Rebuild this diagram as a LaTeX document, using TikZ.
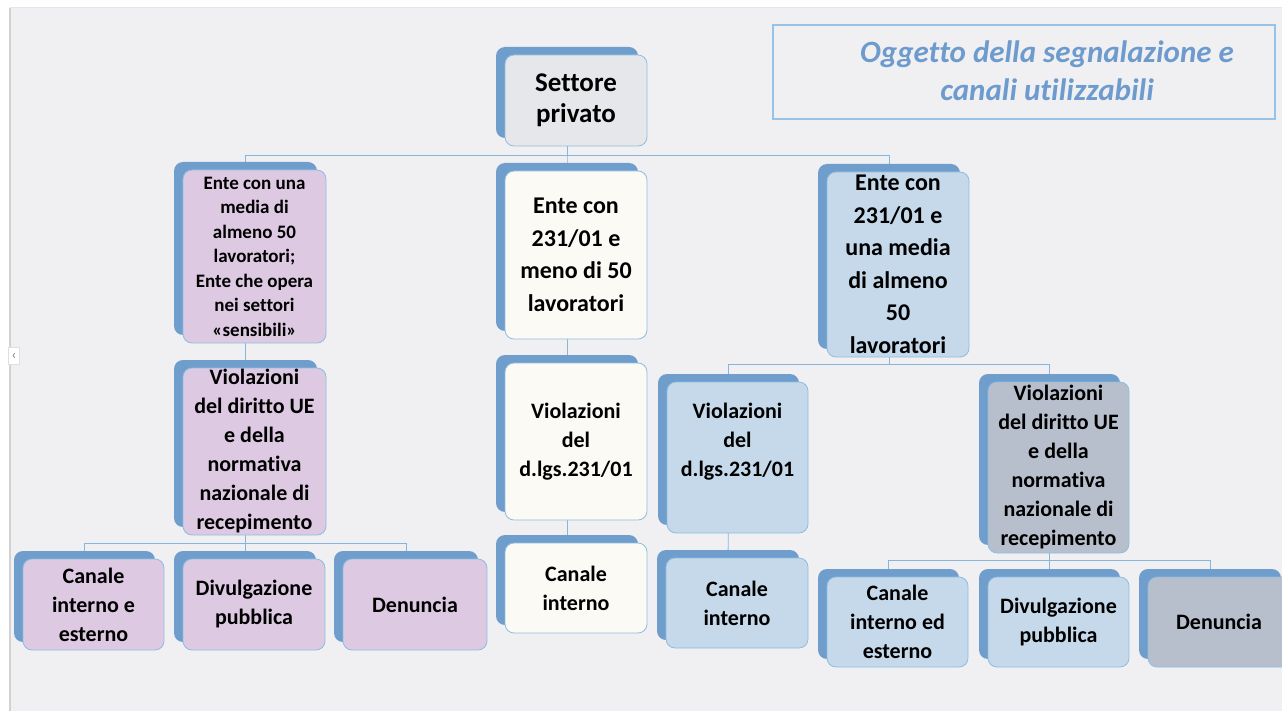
\documentclass[tikz,border=0pt]{standalone}
\usepackage{fontspec}
\setmainfont{Carlito}[Ligatures=NoCommon]
\usetikzlibrary{shadows, backgrounds, positioning}
\definecolor{pannello}{RGB}{240,240,242}
\definecolor{ombra}{RGB}{112,158,204}
\definecolor{bordo}{RGB}{140,190,225}
\definecolor{linea}{RGB}{135,182,220}
\definecolor{rosa}{RGB}{221,201,225}
\definecolor{grigio}{RGB}{230,231,234}
\definecolor{crema}{RGB}{251,250,245}
\definecolor{azzurro}{RGB}{197,217,235}
\definecolor{ardesia}{RGB}{183,190,204}
\definecolor{titoloblu}{RGB}{110,155,205}
\definecolor{cornice}{RGB}{150,195,230}

\begin{document}
\begin{tikzpicture}[x=1pt, y=-1pt,
    box/.style={draw=bordo, line width=0.8pt, rounded corners=9pt, minimum width=142pt,
        inner sep=0pt, align=center, text=black,
        general shadow={draw=none, fill=ombra, shadow xshift=-9pt, shadow yshift=8pt}},
    Gr/.style={fill=grigio},
    Pk/.style={fill=rosa},
    Cr/.style={fill=crema},
    Bl/.style={fill=azzurro},
    Sl/.style={fill=ardesia},
    big/.style={font=\bfseries\fontsize{24}{32.5}\selectfont},
    mid/.style={font=\bfseries\fontsize{22}{29}\selectfont},
    small/.style={font=\bfseries\fontsize{19}{24.5}\selectfont},
    link/.style={draw=linea, line width=0.9pt}]
    \useasboundingbox (0,0) rectangle (1282,711);
    \clip (0,0) rectangle (1282,711);

    \node[box, Gr, minimum height=91pt, font=\bfseries\fontsize{27}{31}\selectfont] (settore) at (576,100.5) {Settore\\privato};

    \node[box, Pk, small, minimum width=143pt, minimum height=173pt] (entemedia) at (254.5,256.5) {Ente con una\\media di\\almeno 50\\lavoratori;\\Ente che opera\\nei settori\\«sensibili»};
    \node[box, Cr, big, minimum height=168pt] (entemeno) at (576,255) {Ente con\\231/01 e\\meno di 50\\lavoratori};
    \node[box, Bl, big, minimum height=185pt] (enteuna) at (898,264.5) {Ente con\\231/01 e\\una media\\di almeno\\50\\lavoratori};

    \node[box, Pk, mid, minimum width=143pt, minimum height=167pt] (violue) at (254.5,451.5) {Violazioni\\del diritto UE\\e della\\normativa\\nazionale di\\recepimento};
    \node[box, Cr, mid, minimum height=157pt] (violdlgs) at (576,441.5) {Violazioni\\del\\d.lgs.231/01};
    \node[box, Bl, mid, minimum width=141pt, minimum height=151pt] (violdlgsr) at (737.5,457.5) {Violazioni\\del\\d.lgs.231/01\\[7pt]~};
    \node[box, Sl, mid, minimum width=141pt, minimum height=171pt] (violuer) at (1058.5,467.5) {Violazioni\\del diritto UE\\e della\\normativa\\nazionale di\\recepimento};

    \node[box, Pk, mid, minimum width=141pt, minimum height=91pt] (canie) at (93.5,604.5) {Canale\\interno e\\esterno};
    \node[box, Pk, mid, minimum height=91pt] (divl) at (254,604.5) {Divulgazione\\pubblica};
    \node[box, Pk, mid, minimum width=144pt, minimum height=91pt] (denl) at (415,604.5) {Denuncia};
    \node[box, Cr, mid, minimum height=90pt] (canint) at (576,588) {Canale\\interno};
    \node[box, Bl, mid, minimum height=90pt] (canintr) at (737,603) {Canale\\interno};
    \node[box, Bl, mid, minimum width=141pt, minimum height=90pt] (canied) at (897.5,622) {Canale\\interno ed\\esterno};
    \node[box, Bl, mid, minimum width=141pt, minimum height=90pt] (divr) at (1058.5,622) {Divulgazione\\pubblica};
    \node[box, Sl, mid, minimum height=90pt] (denr) at (1219,622) {Denuncia};

    \node[draw=cornice, line width=2.5pt, minimum width=502pt, minimum height=94pt] (titolo) at (1024,72) {};
    \node[align=center, text=titoloblu, font=\bfseries\itshape\fontsize{31}{38}\selectfont] (titolotxt) at (1047,71) {Oggetto della segnalazione e\\canali utilizzabili};

    \node[draw=gray!25, fill=white, minimum width=11pt, minimum height=17pt, inner sep=0pt,
        text=gray, font=\fontsize{14}{14}\selectfont] (freccia) at (14,356) {‹};

    \begin{scope}[on background layer]
        \fill[white] (0,0) rectangle (1282,711);
        \fill[pannello] (11,8) rectangle (1282,711);
        \draw[gray!35, line width=2pt] (10,8) -- (10,711);
        \draw[gray!20, line width=1pt] (10,8) -- (1282,8);
        \foreach \c in {entemedia,entemeno,enteuna}
            \draw[link] ([xshift=-9pt]settore.south) -- ++(0,9) -| ([xshift=-9pt]\c.center);
        \foreach \c in {violdlgsr,violuer}
            \draw[link] ([xshift=-9pt]enteuna.south) -- ++(0,7) -| ([xshift=-9pt]\c.center);
        \foreach \c in {canie,divl,denl}
            \draw[link] ([xshift=-9pt]violue.south) -- ++(0,8) -| ([xshift=-9pt]\c.center);
        \foreach \c in {canied,divr,denr}
            \draw[link] ([xshift=-9pt]violuer.south) -- ++(0,7) -| ([xshift=-9pt]\c.center);
        \draw[link] ([xshift=-9pt]entemedia.center) -- ([xshift=-9pt]violue.center);
        \draw[link] ([xshift=-9pt]entemeno.center) -- ([xshift=-9pt]violdlgs.center);
        \draw[link] ([xshift=-9pt]violdlgs.center) -- ([xshift=-9pt]canint.center);
        \draw[link] ([xshift=-9pt]violdlgsr.center) -- ([xshift=-9pt]canintr.center);
    \end{scope}
\end{tikzpicture}
\end{document}
